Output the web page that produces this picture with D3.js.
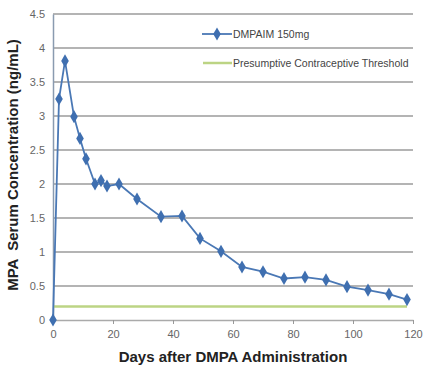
<!DOCTYPE html>
<html>
<head>
<meta charset="utf-8">
<script src="https://cdn.jsdelivr.net/npm/d3@7"></script>
<style>
  body { margin: 0; background: #fff; }
  text { font-family: "Liberation Sans", Arial, sans-serif; }
</style>
</head>
<body>
<svg width="425" height="369"></svg>
<script>
// values
const days = [0, 2, 4, 7, 9, 11, 14, 16, 18, 22, 28, 36, 43, 49, 56, 63, 70, 77, 84, 91, 98, 105, 112, 118];
const mpa = [0, 3.25, 3.81, 2.99, 2.67, 2.37, 2.0, 2.05, 1.97, 2.0, 1.78, 1.52, 1.53, 1.2, 1.01, 0.78, 0.71, 0.61, 0.63, 0.59, 0.49, 0.44, 0.38, 0.3];
const threshold = 0.2;
const xTicks = [0, 20, 40, 60, 80, 100, 120];
const yTicks = [0, 0.5, 1, 1.5, 2, 2.5, 3, 3.5, 4, 4.5];
const legendLabels = ["DMPAIM 150mg", "Presumptive Contraceptive Threshold"];

const svg = d3.select("svg");
const margin = { left: 53, right: 12, top: 14, bottom: 49 };
const W = 425, H = 369;

const x = d3.scaleLinear().domain([0, 120]).range([margin.left, W - margin.right]);
const y = d3.scaleLinear().domain([0, 4.5]).range([H - margin.bottom, margin.top]);

// gridlines
svg.append("g")
  .selectAll("line")
  .data(yTicks.slice(1))
  .enter()
  .append("line")
  .attr("x1", x(0))
  .attr("x2", x(120))
  .attr("y1", d => y(d))
  .attr("y2", d => y(d))
  .style("stroke", "#b4b4b4")
  .style("stroke-width", 1.8);

// y axis
const yAxis = svg.append("g")
  .attr("transform", `translate(${x(0)},0)`)
  .call(d3.axisLeft(y).tickValues(yTicks).tickSize(0).tickPadding(8).tickFormat(d3.format("")));
yAxis.select(".domain").style("stroke", "#8a9bb0").style("stroke-width", 1.5);
yAxis.selectAll("text").style("font-size", "11px").style("fill", "#666");

// x axis
const xAxis = svg.append("g")
  .attr("transform", `translate(0,${y(0)})`)
  .call(d3.axisBottom(x).tickValues(xTicks).tickSizeInner(4).tickSizeOuter(0).tickPadding(6));
xAxis.select(".domain").style("stroke", "#aaa").style("stroke-width", 1.5);
xAxis.selectAll("line").style("stroke", "#999");
xAxis.selectAll("text").style("font-size", "11px").style("fill", "#666");

// threshold line
svg.append("line")
  .attr("x1", x(0))
  .attr("x2", x(118))
  .attr("y1", y(threshold))
  .attr("y2", y(threshold))
  .style("stroke", "#bcd484")
  .style("stroke-width", 2.5);

// series
const pts = days.map((d, i) => [d, mpa[i]]);
const line = d3.line().x(d => x(d[0])).y(d => y(d[1]));
svg.append("path")
  .datum(pts)
  .attr("d", line)
  .style("fill", "none")
  .style("stroke", "#4a78b5")
  .style("stroke-width", 1.8);

const diamond = d3.symbol().type(d3.symbolDiamond).size(50);
svg.append("g")
  .selectAll("path")
  .data(pts)
  .enter()
  .append("path")
  .attr("d", diamond)
  .attr("transform", d => `translate(${x(d[0])},${y(d[1])})`)
  .style("fill", "#3f6fb0");

// legend
const lg = svg.append("g");
lg.append("line").attr("x1", 202).attr("x2", 232).attr("y1", 34).attr("y2", 34)
  .style("stroke", "#4a78b5").style("stroke-width", 1.8);
lg.append("path").attr("d", diamond).attr("transform", "translate(217,34)").style("fill", "#3f6fb0");
lg.append("text").attr("x", 233).attr("y", 37.5).text(legendLabels[0])
  .style("font-size", "10.5px").style("fill", "#444");
lg.append("line").attr("x1", 203).attr("x2", 232).attr("y1", 63).attr("y2", 63)
  .style("stroke", "#bcd484").style("stroke-width", 2.5);
lg.append("text").attr("x", 233).attr("y", 66.5).text(legendLabels[1])
  .style("font-size", "10.5px").style("fill", "#444");

// axis titles
svg.append("text")
  .attr("x", (x(0) + x(120)) / 2)
  .attr("y", 362)
  .attr("text-anchor", "middle")
  .style("font-size", "15px")
  .style("font-weight", "bold")
  .style("fill", "#222")
  .text("Days after DMPA Administration");

svg.append("text")
  .attr("transform", "translate(18,165) rotate(-90)")
  .attr("text-anchor", "middle")
  .style("font-size", "15px")
  .style("font-weight", "bold")
  .style("fill", "#222")
  .style("white-space", "pre")
  .text("MPA  Serum Concentration (ng/mL)");
</script>
</body>
</html>
